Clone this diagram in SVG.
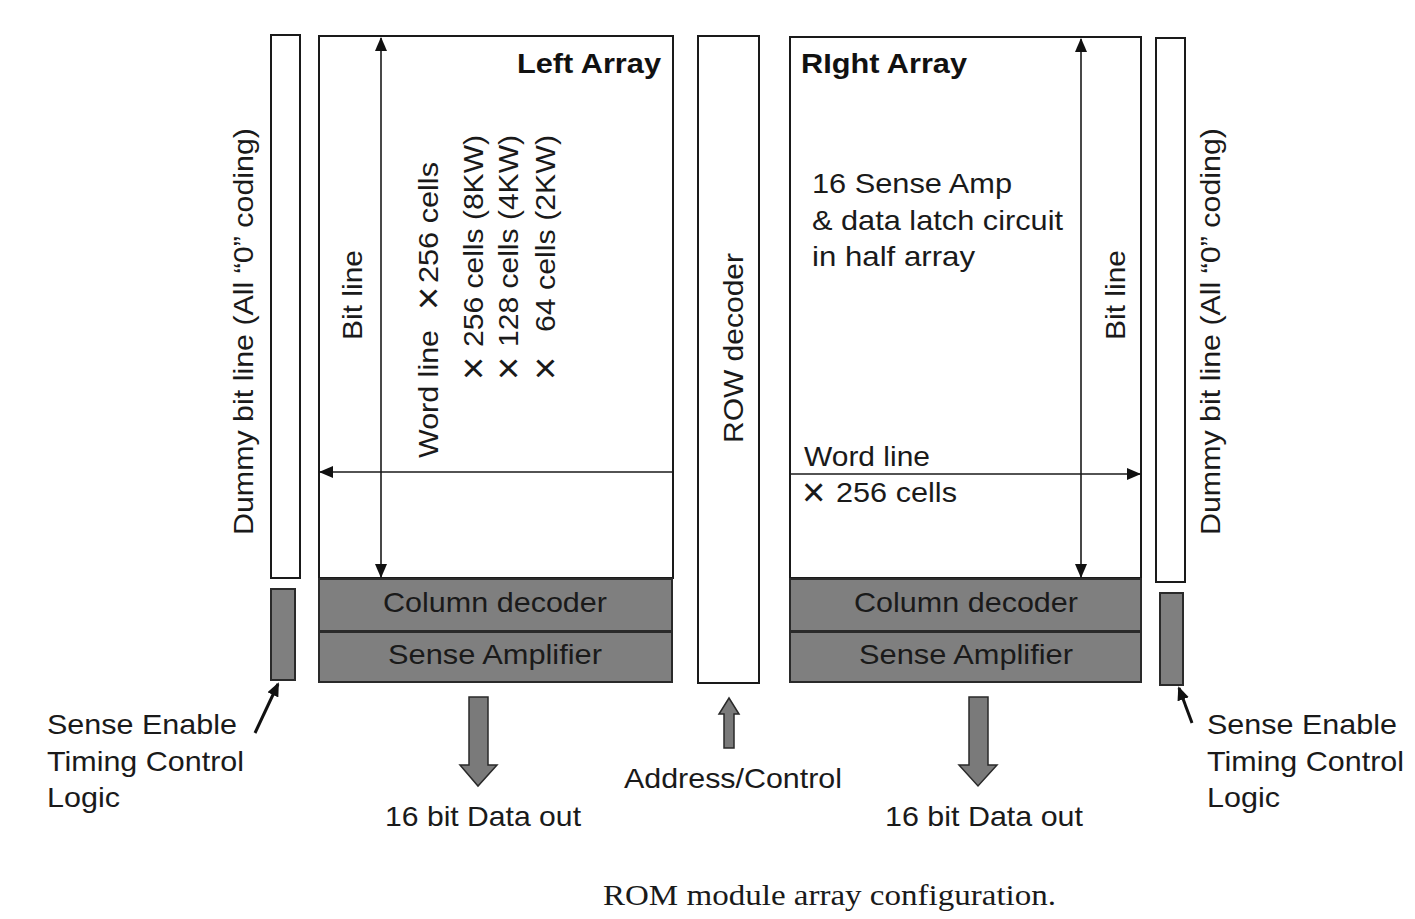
<svg xmlns="http://www.w3.org/2000/svg" width="1415" height="919" viewBox="0 0 1415 919">
  <style>
    .box { fill: #ffffff; stroke: #1a1a1a; stroke-width: 2; }
    .gray { fill: #7f7f7f; stroke: #2a2a2a; stroke-width: 2; }
    .lbl { font-family: "Liberation Sans", Arial, sans-serif; font-size: 28px; fill: #1a1a1a; }
    .times { font-family: "Liberation Sans", Arial, sans-serif; font-size: 40px; fill: #1a1a1a; }
    .bold { font-family: "Liberation Sans", Arial, sans-serif; font-size: 28px; font-weight: bold; fill: #111111; }
    .cap { font-family: "Liberation Serif", "Times New Roman", serif; font-size: 30px; fill: #1a1a1a; }
    .line { stroke: #1a1a1a; stroke-width: 1.6; fill: none; }
    .thick { stroke: #111111; stroke-width: 3; fill: none; }
    .block { fill: #7a7a7a; stroke: #2a2a2a; stroke-width: 1.5; }
  </style>
  <defs>
    <marker id="tri" viewBox="0 0 14 12" refX="13" refY="6" markerWidth="14" markerHeight="12" markerUnits="userSpaceOnUse" orient="auto-start-reverse">
      <path d="M0,0 L14,6 L0,12 Z" fill="#111111"/>
    </marker>
    <marker id="tri2" viewBox="0 0 14 12" refX="12" refY="6" markerWidth="14" markerHeight="12" markerUnits="userSpaceOnUse" orient="auto">
      <path d="M0,0 L14,6 L0,12 Z" fill="#111111"/>
    </marker>
  </defs>

  <rect width="1415" height="919" fill="#ffffff"/>

  <!-- left dummy bit line column -->
  <g id="left-dummy">
    <rect class="box" x="271" y="35" width="29" height="543"/>
    <text class="lbl" transform="translate(253,535) rotate(-90)" textLength="407" lengthAdjust="spacingAndGlyphs">Dummy bit line (All “0” coding)</text>
  </g>

  <!-- left sense-enable block -->
  <g id="left-sense-enable">
    <rect class="gray" x="271" y="589" width="24" height="91"/>
    <text class="lbl" x="47" y="734" textLength="190" lengthAdjust="spacingAndGlyphs">Sense Enable</text>
    <text class="lbl" x="47" y="771" textLength="197" lengthAdjust="spacingAndGlyphs">Timing Control</text>
    <text class="lbl" x="47" y="807" textLength="73" lengthAdjust="spacingAndGlyphs">Logic</text>
  </g>

  <!-- left cell array -->
  <g id="left-array">
    <rect class="box" x="319" y="36" width="354" height="542"/>
    <text class="bold" x="517" y="73" textLength="144" lengthAdjust="spacingAndGlyphs">Left Array</text>
    <text class="lbl" transform="translate(362,340) rotate(-90)" textLength="90" lengthAdjust="spacingAndGlyphs">Bit line</text>
    <g transform="translate(438,458) rotate(-90)">
      <text class="lbl" x="0" y="0" textLength="128" lengthAdjust="spacingAndGlyphs">Word line</text>
      <text class="times" x="148" y="4">×</text>
      <text class="lbl" x="175" y="0" textLength="121" lengthAdjust="spacingAndGlyphs">256 cells</text>
    </g>
    <g transform="translate(483,378) rotate(-90)">
      <text class="times" x="-2" y="4">×</text>
      <text class="lbl" x="31" y="0" textLength="212" lengthAdjust="spacingAndGlyphs">256 cells (8KW)</text>
    </g>
    <g transform="translate(518,378) rotate(-90)">
      <text class="times" x="-2" y="4">×</text>
      <text class="lbl" x="31" y="0" textLength="212" lengthAdjust="spacingAndGlyphs">128 cells (4KW)</text>
    </g>
    <g transform="translate(555,378) rotate(-90)">
      <text class="times" x="-2" y="4">×</text>
      <text class="lbl" x="46" y="0" textLength="197" lengthAdjust="spacingAndGlyphs">64 cells (2KW)</text>
    </g>
  </g>

  <!-- left column decoder and sense amplifier -->
  <g id="left-column-decoder">
    <rect class="gray" x="319" y="579" width="353" height="52"/>
    <text class="lbl" x="495" y="612" text-anchor="middle" textLength="224" lengthAdjust="spacingAndGlyphs">Column decoder</text>
  </g>
  <g id="left-sense-amp">
    <rect class="gray" x="319" y="632" width="353" height="50"/>
    <text class="lbl" x="495" y="664" text-anchor="middle" textLength="214" lengthAdjust="spacingAndGlyphs">Sense Amplifier</text>
  </g>
  <g id="left-data-out">
    <text class="lbl" x="483" y="826" text-anchor="middle" textLength="196" lengthAdjust="spacingAndGlyphs">16 bit Data out</text>
  </g>

  <!-- row decoder -->
  <g id="row-decoder">
    <rect class="box" x="698" y="36" width="61" height="647"/>
    <text class="lbl" transform="translate(743,443) rotate(-90)" textLength="190" lengthAdjust="spacingAndGlyphs">ROW decoder</text>
  </g>
  <g id="address-control">
    <text class="lbl" x="733" y="788" text-anchor="middle" textLength="218" lengthAdjust="spacingAndGlyphs">Address/Control</text>
  </g>

  <!-- right cell array -->
  <g id="right-array">
    <rect class="box" x="790" y="37" width="351" height="541"/>
    <text class="bold" x="801" y="73" textLength="166" lengthAdjust="spacingAndGlyphs">RIght Array</text>
    <text class="lbl" x="812" y="193" textLength="200" lengthAdjust="spacingAndGlyphs">16 Sense Amp</text>
    <text class="lbl" x="812" y="230" textLength="251" lengthAdjust="spacingAndGlyphs">&amp; data latch circuit</text>
    <text class="lbl" x="812" y="266" textLength="163" lengthAdjust="spacingAndGlyphs">in half array</text>
    <text class="lbl" x="804" y="466" textLength="126" lengthAdjust="spacingAndGlyphs">Word line</text>
    <text class="times" x="802" y="506">×</text>
    <text class="lbl" x="836" y="502" textLength="121" lengthAdjust="spacingAndGlyphs">256 cells</text>
    <text class="lbl" transform="translate(1125,340) rotate(-90)" textLength="90" lengthAdjust="spacingAndGlyphs">Bit line</text>
  </g>

  <!-- right column decoder and sense amplifier -->
  <g id="right-column-decoder">
    <rect class="gray" x="790" y="579" width="351" height="52"/>
    <text class="lbl" x="966" y="612" text-anchor="middle" textLength="224" lengthAdjust="spacingAndGlyphs">Column decoder</text>
  </g>
  <g id="right-sense-amp">
    <rect class="gray" x="790" y="632" width="351" height="50"/>
    <text class="lbl" x="966" y="664" text-anchor="middle" textLength="214" lengthAdjust="spacingAndGlyphs">Sense Amplifier</text>
  </g>
  <g id="right-data-out">
    <text class="lbl" x="984" y="826" text-anchor="middle" textLength="198" lengthAdjust="spacingAndGlyphs">16 bit Data out</text>
  </g>

  <!-- right dummy bit line column -->
  <g id="right-dummy">
    <rect class="box" x="1156" y="38" width="29" height="544"/>
    <text class="lbl" transform="translate(1220,535) rotate(-90)" textLength="407" lengthAdjust="spacingAndGlyphs">Dummy bit line (All “0” coding)</text>
  </g>

  <!-- right sense-enable block -->
  <g id="right-sense-enable">
    <rect class="gray" x="1160" y="593" width="23" height="92"/>
    <text class="lbl" x="1207" y="734" textLength="190" lengthAdjust="spacingAndGlyphs">Sense Enable</text>
    <text class="lbl" x="1207" y="771" textLength="197" lengthAdjust="spacingAndGlyphs">Timing Control</text>
    <text class="lbl" x="1207" y="807" textLength="73" lengthAdjust="spacingAndGlyphs">Logic</text>
  </g>

  <!-- bit lines, word lines and signal arrows -->
  <g id="connectors">
    <line class="line" x1="381" y1="38" x2="381" y2="577" marker-start="url(#tri)" marker-end="url(#tri)"/>
    <line class="line" x1="672" y1="472" x2="320" y2="472" marker-end="url(#tri)"/>
    <line class="line" x1="1081" y1="39" x2="1081" y2="577" stroke-width="2.2" marker-start="url(#tri)" marker-end="url(#tri)"/>
    <line class="line" x1="791" y1="474" x2="1140" y2="474" marker-end="url(#tri)"/>

    <path class="block" d="M469,697 H488 V765 H497 L478,786 L460,765 H469 Z"/>
    <path class="block" d="M969,697 H988 V765 H997 L978,786 L959,765 H969 Z"/>
    <path class="block" d="M729,698 L739,714 H734 V748 H724 V714 H719 Z"/>

    <line class="thick" x1="255" y1="733" x2="278" y2="684" marker-end="url(#tri2)"/>
    <line class="thick" x1="1192" y1="723" x2="1179" y2="688" marker-end="url(#tri2)"/>
  </g>

  <text class="cap" x="603" y="905" textLength="453" lengthAdjust="spacingAndGlyphs">ROM module array configuration.</text>
</svg>
